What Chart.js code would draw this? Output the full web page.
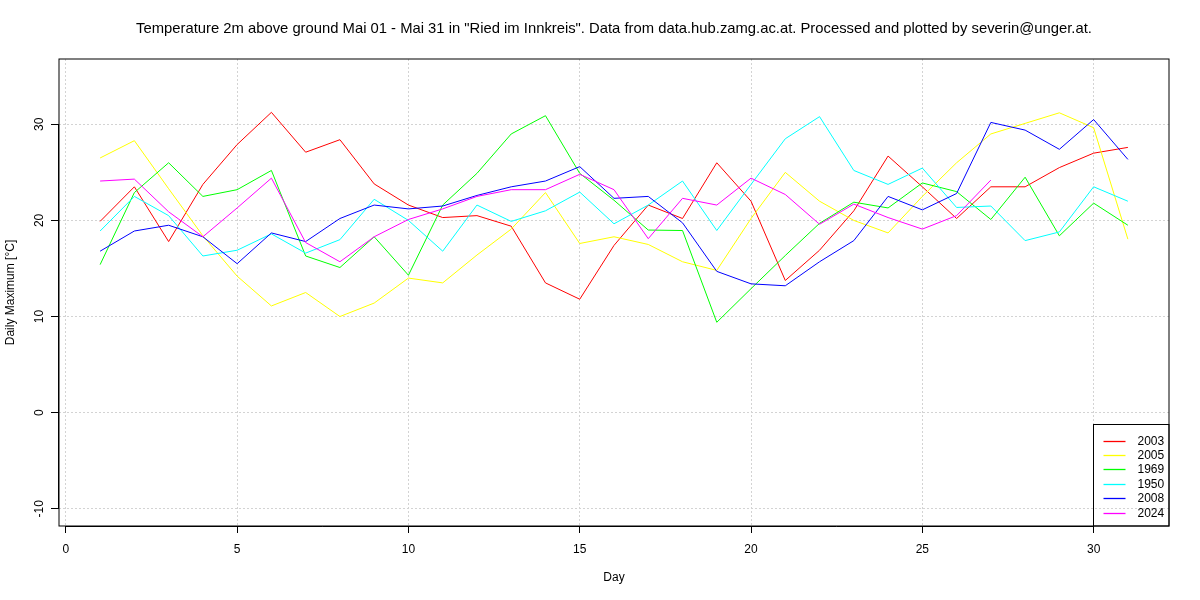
<!DOCTYPE html>
<html>
<head>
<meta charset="utf-8">
<script src="https://cdn.jsdelivr.net/npm/chart.js@4/dist/chart.umd.min.js"></script>
<style>
  html, body { margin: 0; padding: 0; background: #fff; }
  #wrap { width: 1200px; height: 600px; }
</style>
</head>
<body>
<div id="wrap"><canvas id="c" width="1200" height="600"></canvas></div>
<script>
const titleText = 'Temperature 2m above ground Mai 01 - Mai 31 in "Ried im Innkreis". Data from data.hub.zamg.ac.at. Processed and plotted by severin@unger.at.';

const days = [1, 2, 3, 4, 5, 6, 7, 8, 9, 10, 11, 12, 13, 14, 15, 16, 17, 18, 19, 20, 21, 22, 23, 24, 25, 26, 27, 28, 29, 30, 31];

const years = ['2003', '2005', '1969', '1950', '2008', '2024'];
const colors = ['#ff0000', '#ffff00', '#00ff00', '#00ffff', '#0000ff', '#ff00ff'];

const t2003 = [19.9, 23.5, 17.8, 23.75, 27.9, 31.25, 27.1, 28.4, 23.8, 21.6, 20.3, 20.5, 19.4, 13.5, 11.8, 17.4, 21.6, 20.2, 26.0, 22.0, 13.75, 16.9, 21.0, 26.7, 23.5, 20.2, 23.5, 23.5, 25.5, 27.0, 27.6];
const t2005 = [26.5, 28.3, 23.3, 18.4, 14.2, 11.1, 12.5, 10.0, 11.4, 14.0, 13.5, 16.4, 19.1, 22.9, 17.6, 18.3, 17.5, 15.7, 14.8, 20.2, 25.0, 22.0, 20.0, 18.7, 22.5, 26.0, 29.0, 30.1, 31.2, 29.65, 18.05];
const t1969 = [15.4, 22.9, 26.0, 22.5, 23.2, 25.2, 16.3, 15.1, 18.3, 14.3, 21.6, 24.9, 29.0, 30.9, 24.9, 22.1, 19.0, 18.95, 9.4, 12.9, 16.35, 19.7, 21.9, 21.3, 23.9, 23.0, 20.1, 24.5, 18.4, 21.8, 19.5];
const t1950 = [18.9, 22.5, 20.5, 16.3, 16.9, 18.6, 16.6, 18.0, 22.2, 20.0, 16.8, 21.6, 19.9, 21.0, 22.95, 19.65, 21.6, 24.1, 18.95, 23.75, 28.5, 30.8, 25.2, 23.75, 25.45, 21.35, 21.5, 17.9, 18.8, 23.5, 22.0];
const t2008 = [16.8, 18.9, 19.5, 18.3, 15.5, 18.7, 17.8, 20.2, 21.6, 21.2, 21.5, 22.6, 23.5, 24.1, 25.6, 22.3, 22.5, 19.75, 14.7, 13.4, 13.2, 15.7, 17.9, 22.5, 21.1, 22.8, 30.2, 29.4, 27.4, 30.5, 26.35];
const t2024 = [24.1, 24.3, 20.9, 18.3, 21.3, 24.4, 17.7, 15.7, 18.3, 20.1, 21.2, 22.5, 23.2, 23.2, 24.8, 23.2, 18.1, 22.3, 21.6, 24.4, 22.7, 19.6, 21.7, 20.3, 19.1, 20.5, 24.2];

const series = [t2003, t2005, t1969, t1950, t2008, t2024];

const xTicks = [0, 5, 10, 15, 20, 25, 30];
const yTicks = [-10, 0, 10, 20, 30];

const FONT = '"Liberation Sans", Arial, Helvetica, sans-serif';
Chart.defaults.font.family = FONT;
Chart.defaults.font.size = 12;
Chart.defaults.color = '#000';

// R-style extras: box, axis lines, rotated y labels, title, legend
const rStyle = {
  id: 'rStyle',
  afterDraw(chart) {
    const { ctx, chartArea: a, scales } = chart;
    const xs = scales.x, ys = scales.y;
    ctx.save();

    // box
    ctx.strokeStyle = '#000';
    ctx.lineWidth = 1;
    ctx.strokeRect(a.left, a.top, a.right - a.left, a.bottom - a.top);

    // axis lines over tick range
    ctx.beginPath();
    ctx.moveTo(xs.getPixelForValue(xTicks[0]), a.bottom + 0.5);
    ctx.lineTo(xs.getPixelForValue(xTicks[xTicks.length - 1]), a.bottom + 0.5);
    ctx.moveTo(a.left - 0.5, ys.getPixelForValue(yTicks[0]));
    ctx.lineTo(a.left - 0.5, ys.getPixelForValue(yTicks[yTicks.length - 1]));
    ctx.stroke();

    // rotated y tick labels
    ctx.fillStyle = '#000';
    ctx.font = '12px ' + FONT;
    ctx.textAlign = 'center';
    ctx.textBaseline = 'middle';
    yTicks.forEach(v => {
      ctx.save();
      ctx.translate(a.left - 19, ys.getPixelForValue(v));
      ctx.rotate(-Math.PI / 2);
      ctx.fillText(String(v), 0, 0);
      ctx.restore();
    });

    // title
    ctx.font = '14.8px ' + FONT;
    ctx.fillText(titleText, (a.left + a.right) / 2, 29);

    // legend
    const lx = 1093.5, ly = 424.5;
    ctx.strokeStyle = '#000';
    ctx.strokeRect(lx, ly, a.right - lx, a.bottom - ly);
    ctx.font = '12px ' + FONT;
    ctx.textAlign = 'left';
    chart.data.datasets.forEach((ds, i) => {
      const y = Math.round(ly + 16 + i * 14.4) + 0.5;
      ctx.strokeStyle = colors[i];
      ctx.lineWidth = 1.3;
      ctx.beginPath();
      ctx.moveTo(lx + 10, y);
      ctx.lineTo(lx + 32, y);
      ctx.stroke();
      ctx.fillText(ds.label, lx + 44, y);
    });
    ctx.restore();
  }
};

new Chart(document.getElementById('c'), {
  type: 'line',
  data: {
    datasets: years.map((yr, i) => ({
      label: yr,
      data: series[i].map((v, j) => ({ x: days[j], y: v })),
      borderColor: colors[i],
      backgroundColor: colors[i],
      borderWidth: 1,
      pointRadius: 0,
      tension: 0,
      fill: false,
      order: years.length - i
    }))
  },
  options: {
    responsive: false,
    animation: false,
    layout: { padding: { top: 59, right: 31, left: 0, bottom: 0 } },
    plugins: {
      legend: { display: false },
      tooltip: { enabled: false },
      title: { display: false }
    },
    scales: {
      x: {
        type: 'linear',
        min: -0.2,
        max: 32.2,
        afterBuildTicks: s => { s.ticks = xTicks.map(v => ({ value: v })); },
        afterFit: s => { s.height = 74; },
        ticks: { padding: 9, maxRotation: 0, autoSkip: false, font: { size: 12 }, color: '#000' },
        grid: { color: '#d3d3d3', lineWidth: 1, drawTicks: true, tickLength: 7, tickColor: '#000' },
        border: { display: false, dash: [2, 2] },
        title: { display: true, text: 'Day', font: { size: 12 }, color: '#000', padding: { top: 0, bottom: 15 } }
      },
      y: {
        min: -11.8,
        max: 36.8,
        afterBuildTicks: s => { s.ticks = yTicks.map(v => ({ value: v })); },
        afterFit: s => { s.width = 59; },
        ticks: { display: false },
        grid: { color: '#d3d3d3', lineWidth: 1, drawTicks: true, tickLength: 8, tickColor: '#000' },
        border: { display: false, dash: [2, 2] },
        title: { display: true, text: 'Daily Maximum [°C]', font: { size: 12 }, color: '#000', padding: { top: 3, bottom: 0 } }
      }
    }
  },
  plugins: [rStyle]
});
</script>
</body>
</html>
